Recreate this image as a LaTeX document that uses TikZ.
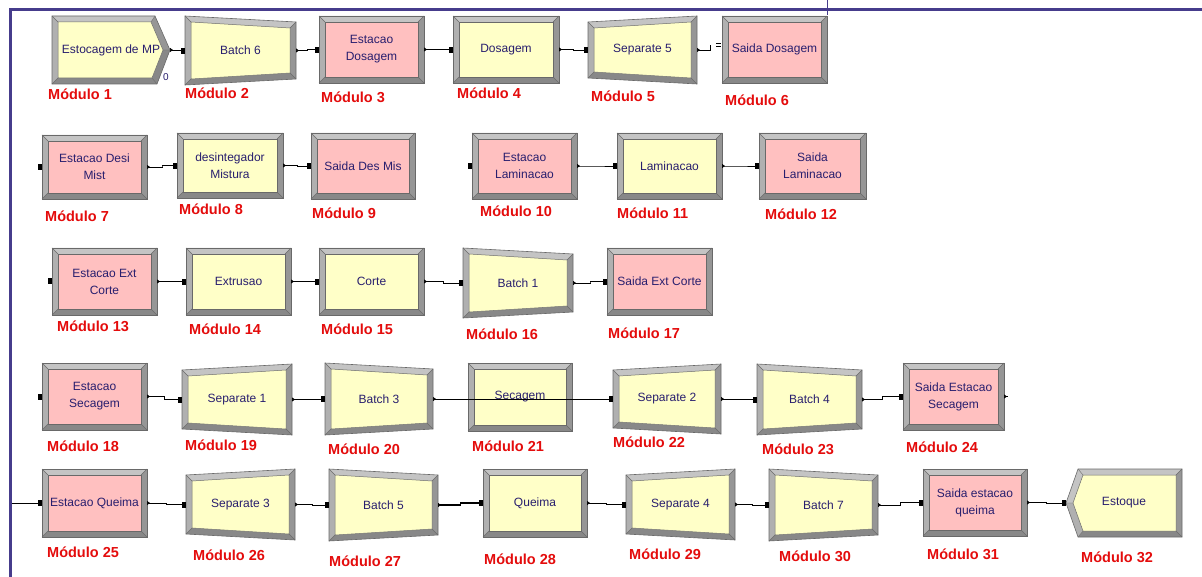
\documentclass[tikz,border=0pt]{standalone}
\usepackage{fontspec}
\setmainfont{Liberation Sans}
\usetikzlibrary{arrows.meta,calc}
\definecolor{frameblue}{RGB}{70,60,140}
\definecolor{boxyellow}{RGB}{255,255,200}
\definecolor{boxpink}{RGB}{255,192,192}
\definecolor{navytext}{RGB}{40,30,110}
\definecolor{modred}{RGB}{228,12,12}
\definecolor{bevT}{RGB}{196,196,196}
\definecolor{bevL}{RGB}{176,176,176}
\definecolor{bevR}{RGB}{150,150,150}
\definecolor{bevB}{RGB}{136,136,136}
\definecolor{bevline}{RGB}{105,105,105}
\tikzset{
  modtext/.style={inner sep=0pt, outer sep=0pt, align=center, text=navytext,
    font=\fontsize{12}{17}\selectfont},
  modlabel/.style={anchor=west, inner sep=0pt, text=modred,
    font=\fontsize{14.5}{16}\selectfont\bfseries},
  outerline/.style={draw=bevline, line width=0.6pt},
  innerline/.style={draw=bevline, line width=0.5pt},
  conn/.style={draw=black, line width=0.7pt,
    arrows={Triangle[reversed,length=3pt,width=4pt]-Square[length=4pt,width=5.5pt]}},
  connin/.style={draw=black, line width=0.7pt, arrows={-Square[length=4pt,width=5.5pt]}},
  connout/.style={draw=black, line width=0.7pt, arrows={Triangle[reversed,length=3pt,width=4pt]-}},
  jog/.style={to path={-| ($(\tikztostart)!.5!(\tikztotarget)$) |- (\tikztotarget)}},
}
% #1 name, #2 x1, #3 y1, #4 x2, #5 y2, #6 left inset, #7 right inset, #8 colour, #9 text
\newcommand{\abox}[9]{%
  \coordinate (#1-A) at ({#2},{#3+#6});
  \coordinate (#1-B) at ({#4},{#3+#7});
  \coordinate (#1-C) at ({#4},{#5-#7});
  \coordinate (#1-D) at ({#2},{#5-#6});
  \coordinate (#1-a) at ({#2+6},{#3+#6+6});
  \coordinate (#1-b) at ({#4-6},{#3+#7+6});
  \coordinate (#1-c) at ({#4-6},{#5-#7-6});
  \coordinate (#1-d) at ({#2+6},{#5-#6-6});
  \fill[bevT] (#1-A) -- (#1-B) -- (#1-b) -- (#1-a) -- cycle;
  \fill[bevR] (#1-B) -- (#1-C) -- (#1-c) -- (#1-b) -- cycle;
  \fill[bevB] (#1-C) -- (#1-D) -- (#1-d) -- (#1-c) -- cycle;
  \fill[bevL] (#1-D) -- (#1-A) -- (#1-a) -- (#1-d) -- cycle;
  \draw[innerline, fill=#8] (#1-a) -- (#1-b) -- (#1-c) -- (#1-d) -- cycle;
  \draw[bevline, line width=0.4pt] (#1-A) -- (#1-a) (#1-B) -- (#1-b) (#1-C) -- (#1-c) (#1-D) -- (#1-d);
  \draw[outerline] (#1-A) -- (#1-B) -- (#1-C) -- (#1-D) -- cycle;
  \node[modtext, minimum width={#4-#2}, minimum height={#5-#3}] (#1) at ({(#2+#4)/2},{(#3+#5)/2}) {#9};
}
\begin{document}
\begin{tikzpicture}[x=1pt, y=-1pt]
\useasboundingbox (0,0) rectangle (1202,577);
\fill[white] (0,0) rectangle (1202,577);
% frame
\draw[frameblue, line width=3pt] (1202,9.5) -- (10,9.5) -- (10,577);
\draw[frameblue, line width=1pt] (827,0) -- (827,15);

% ---- Module 1 (create shape)
\coordinate (c1-A) at (52,16); \coordinate (c1-B) at (155,16); \coordinate (c1-T) at (170,50);
\coordinate (c1-C) at (157,84); \coordinate (c1-D) at (52,84);
\coordinate (c1-a) at (58,22); \coordinate (c1-b) at (151,22); \coordinate (c1-t) at (163,50);
\coordinate (c1-c) at (152,78); \coordinate (c1-d) at (58,78);
\fill[bevT] (c1-A) -- (c1-B) -- (c1-b) -- (c1-a) -- cycle;
\fill[bevR] (c1-B) -- (c1-T) -- (c1-t) -- (c1-b) -- cycle;
\fill[bevB] (c1-T) -- (c1-C) -- (c1-c) -- (c1-t) -- cycle;
\fill[bevB] (c1-C) -- (c1-D) -- (c1-d) -- (c1-c) -- cycle;
\fill[bevL] (c1-D) -- (c1-A) -- (c1-a) -- (c1-d) -- cycle;
\draw[innerline, fill=boxyellow] (c1-a) -- (c1-b) -- (c1-t) -- (c1-c) -- (c1-d) -- cycle;
\draw[bevline, line width=0.4pt] (c1-A) -- (c1-a) (c1-B) -- (c1-b) (c1-T) -- (c1-t) (c1-C) -- (c1-c) (c1-D) -- (c1-d);
\draw[outerline] (c1-A) -- (c1-B) -- (c1-T) -- (c1-C) -- (c1-D) -- cycle;
\node[modtext, minimum width=118, minimum height=68] (m1) at (111,50) {Estocagem de MP};
\node[text=navytext, font=\fontsize{10}{10}\selectfont, inner sep=0pt] (zero) at (166,77) {0};

% ---- Module 32 (dispose shape)
\coordinate (c32-T) at (1066,503); \coordinate (c32-A) at (1078,469); \coordinate (c32-B) at (1182,469);
\coordinate (c32-C) at (1182,537); \coordinate (c32-D) at (1078,537);
\coordinate (c32-t) at (1073,503); \coordinate (c32-a) at (1083,475); \coordinate (c32-b) at (1176,475);
\coordinate (c32-c) at (1176,531); \coordinate (c32-d) at (1083,531);
\fill[bevT] (c32-A) -- (c32-B) -- (c32-b) -- (c32-a) -- cycle;
\fill[bevR] (c32-B) -- (c32-C) -- (c32-c) -- (c32-b) -- cycle;
\fill[bevB] (c32-C) -- (c32-D) -- (c32-d) -- (c32-c) -- cycle;
\fill[bevL] (c32-D) -- (c32-T) -- (c32-t) -- (c32-d) -- cycle;
\fill[bevT] (c32-T) -- (c32-A) -- (c32-a) -- (c32-t) -- cycle;
\draw[innerline, fill=boxyellow] (c32-t) -- (c32-a) -- (c32-b) -- (c32-c) -- (c32-d) -- cycle;
\draw[bevline, line width=0.4pt] (c32-A) -- (c32-a) (c32-B) -- (c32-b) (c32-T) -- (c32-t) (c32-C) -- (c32-c) (c32-D) -- (c32-d);
\draw[outerline] (c32-T) -- (c32-A) -- (c32-B) -- (c32-C) -- (c32-D) -- cycle;
\node[modtext, minimum width=116, minimum height=68] (m32) at (1124,503) {Estoque};

% ---- other modules
\abox{m2}{185}{16}{296}{85}{0}{6}{boxyellow}{Batch 6}
\abox{m3}{319}{16}{424}{83}{0}{0}{boxpink}{Estacao\\Dosagem}
\abox{m4}{453}{16}{559}{83}{0}{0}{boxyellow}{Dosagem}
\abox{m5}{588}{16}{697}{84}{6}{0}{boxyellow}{Separate 5}
\abox{m6}{722}{16}{827}{83}{0}{0}{boxpink}{Saida Dosagem}

\abox{m7}{42}{135}{147}{199}{0}{0}{boxpink}{Estacao Desi\\Mist}
\abox{m8}{177}{133}{283}{198}{0}{0}{boxyellow}{desintegador\\Mistura}
\abox{m9}{311}{133}{415}{199}{0}{0}{boxpink}{Saida Des Mis}
\abox{m10}{472}{133}{577}{199}{0}{0}{boxpink}{Estacao\\Laminacao}
\abox{m11}{617}{133}{722}{199}{0}{0}{boxyellow}{Laminacao}
\abox{m12}{759}{133}{866}{199}{0}{0}{boxpink}{Saida\\Laminacao}

\abox{m13}{52}{248}{157}{315}{0}{0}{boxpink}{Estacao Ext\\Corte}
\abox{m14}{186}{248}{291}{315}{0}{0}{boxyellow}{Extrusao}
\abox{m15}{319}{248}{424}{315}{0}{0}{boxyellow}{Corte}
\abox{m16}{463}{248}{573}{318}{0}{6}{boxyellow}{Batch 1}
\abox{m17}{607}{248}{712}{315}{0}{0}{boxpink}{Saida Ext Corte}

\abox{m18}{42}{363}{147}{430}{0}{0}{boxpink}{Estacao\\Secagem}
\abox{m19}{182}{364}{292}{435}{6}{0}{boxyellow}{Separate 1}
\abox{m20}{325}{363}{433}{435}{0}{6}{boxyellow}{Batch 3}
\abox{m21}{468}{363}{572}{431}{0}{0}{boxyellow}{Secagem}
\abox{m22}{613}{364}{721}{434}{6}{0}{boxyellow}{Separate 2}
\abox{m23}{757}{364}{862}{435}{0}{6}{boxyellow}{Batch 4}
\abox{m24}{903}{363}{1004}{430}{0}{0}{boxpink}{Saida Estacao\\Secagem}

\abox{m25}{42}{469}{147}{537}{0}{0}{boxpink}{Estacao Queima}
\abox{m26}{186}{469}{295}{540}{6}{0}{boxyellow}{Separate 3}
\abox{m27}{329}{469}{438}{541}{0}{6}{boxyellow}{Batch 5}
\abox{m28}{483}{469}{587}{537}{0}{0}{boxyellow}{Queima}
\abox{m29}{626}{469}{735}{540}{6}{0}{boxyellow}{Separate 4}
\abox{m30}{769}{469}{878}{541}{0}{6}{boxyellow}{Batch 7}
\abox{m31}{923}{469}{1027}{536}{0}{0}{boxpink}{Saida estacao\\queima}

% ---- labels
\node[modlabel] (l1) at (48,94) {Módulo 1};
\node[modlabel] (l2) at (185,93) {Módulo 2};
\node[modlabel] (l3) at (321,97) {Módulo 3};
\node[modlabel] (l4) at (457,93) {Módulo 4};
\node[modlabel] (l5) at (591,96) {Módulo 5};
\node[modlabel] (l6) at (725,100) {Módulo 6};
\node[modlabel] (l7) at (45,216) {Módulo 7};
\node[modlabel] (l8) at (179,209) {Módulo 8};
\node[modlabel] (l9) at (312,213) {Módulo 9};
\node[modlabel] (l10) at (480,211) {Módulo 10};
\node[modlabel] (l11) at (617,213) {Módulo 11};
\node[modlabel] (l12) at (765,214) {Módulo 12};
\node[modlabel] (l13) at (57,326) {Módulo 13};
\node[modlabel] (l14) at (189,329) {Módulo 14};
\node[modlabel] (l15) at (321,329) {Módulo 15};
\node[modlabel] (l16) at (466,334) {Módulo 16};
\node[modlabel] (l17) at (608,333) {Módulo 17};
\node[modlabel] (l18) at (47,446) {Módulo 18};
\node[modlabel] (l19) at (185,445) {Módulo 19};
\node[modlabel] (l20) at (328,449) {Módulo 20};
\node[modlabel] (l21) at (472,446) {Módulo 21};
\node[modlabel] (l22) at (613,442) {Módulo 22};
\node[modlabel] (l23) at (762,449) {Módulo 23};
\node[modlabel] (l24) at (906,447) {Módulo 24};
\node[modlabel] (l25) at (47,552) {Módulo 25};
\node[modlabel] (l26) at (193,555) {Módulo 26};
\node[modlabel] (l27) at (329,561) {Módulo 27};
\node[modlabel] (l28) at (484,559) {Módulo 28};
\node[modlabel] (l29) at (629,554) {Módulo 29};
\node[modlabel] (l30) at (779,556) {Módulo 30};
\node[modlabel] (l31) at (927,554) {Módulo 31};
\node[modlabel] (l32) at (1081,557) {Módulo 32};

% ---- connectors
\draw[conn] (m1.east) to[jog] (m2.west);
\draw[conn] (m2.east) to[jog] (m3.west);
\draw[conn] (m3.east) to[jog] (m4.west);
\draw[conn] (m4.east) to[jog] (m5.west);
\coordinate (k5) at (710,45);
\draw[connout] (m5.east) -| (k5);
\draw[black, line width=0.6pt] (716,43) -- (721,43) (716,46) -- (721,46);

\draw[conn] (m7.east) to[jog] (m8.west);
\draw[conn] (m8.east) to[jog] (m9.west);
\draw[conn] (m10.east) to[jog] (m11.west);
\draw[conn] (m11.east) to[jog] (m12.west);

\draw[conn] (m13.east) to[jog] (m14.west);
\draw[conn] (m14.east) to[jog] (m15.west);
\draw[conn] (m15.east) to[jog] (m16.west);
\draw[conn] (m16.east) to[jog] (m17.west);

\draw[conn] (m18.east) to[jog] (m19.west);
\draw[conn] (m19.east) to[jog] (m20.west);
\draw[conn] (m20.east) -- (m22.west);
\draw[conn] (m22.east) to[jog] (m23.west);
\draw[conn] (m23.east) to[jog] (m24.west);
\coordinate (t24) at (1008,396.5);
\draw[connout] (m24.east) -- (t24);

\coordinate (f25) at (11.5,503);
\draw[connin] (f25) -- (m25.west);
\draw[conn] (m25.east) to[jog] (m26.west);
\draw[conn] (m26.east) to[jog] (m27.west);
\draw[conn, line width=1.2pt] (m27.east) to[jog] (m28.west);
\draw[conn] (m28.east) to[jog] (m29.west);
\draw[conn] (m29.east) to[jog] (m30.west);
\draw[conn] (m30.east) to[jog] (m31.west);
\draw[conn] (m31.east) to[jog] (m32.west);

% entry points without connectors
\fill[black] ([xshift=-4pt,yshift=-3pt]m7.west) rectangle ++(4,-6);
\fill[black] ([xshift=-4pt,yshift=-3pt]m10.west) rectangle ++(4,-6);
\fill[black] ([xshift=-4pt,yshift=-3pt]m13.west) rectangle ++(4,-6);
\fill[black] ([xshift=-4pt,yshift=-3pt]m18.west) rectangle ++(4,-6);
\end{tikzpicture}
\end{document}
